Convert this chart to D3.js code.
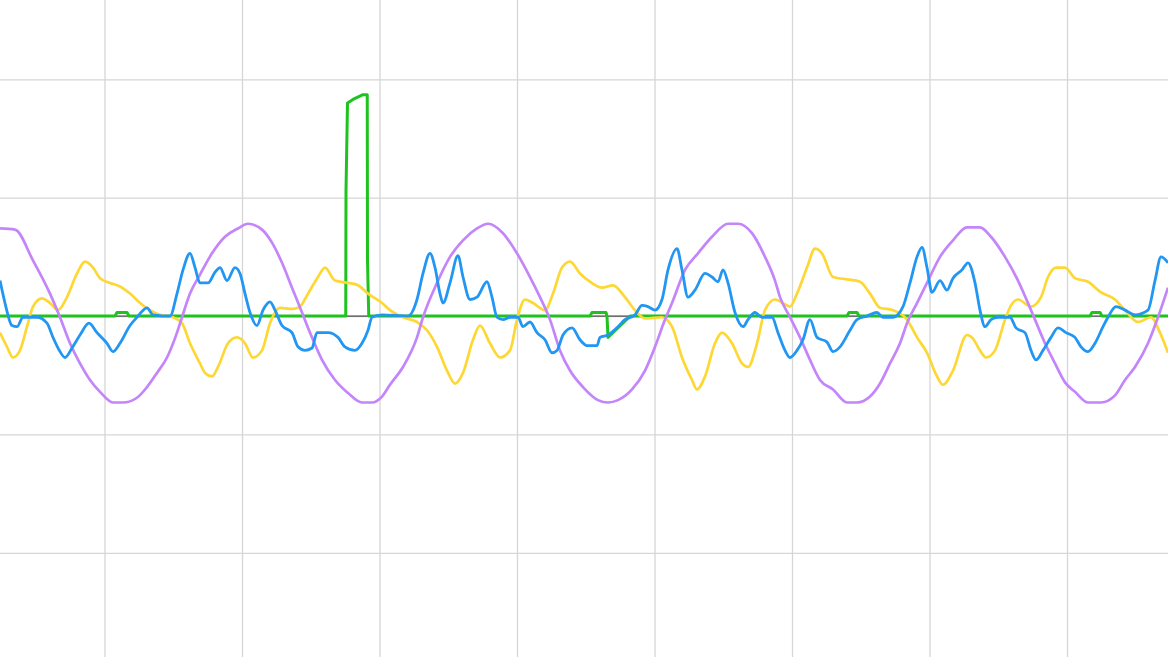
<!DOCTYPE html>
<html>
<head>
<meta charset="utf-8">
<script src="https://cdn.jsdelivr.net/npm/d3@7"></script>
<style>
  html, body { margin: 0; padding: 0; background: #fff; overflow: hidden; }
  #canvas-container { width: 1168px; height: 657px; }
</style>
</head>
<body>
<div id="canvas-container"></div>
<script>
// sample index (x) / reading (y) pairs
const purpleX = [13.2,19.2,26.4,33.2,37.2,41.2,45.2,49.2,53.2,58.4,62.4,68,72,76,80,84,86,89.2,93.2,98,103.2,108.4,112.4,118,122,126,130,134,138,142,147.2,152.4,158,162,166,169.2,174.4,180,182.4,188,193.2,198.4,204,208.4,214.4,220,225.2,229.2,233.2,237.2,241.2,246.4,252.4,256.4,260.4,266,271.2,275.2,279.2,282,287.2,292.4,298,304.4,308.4,314,319.2,323.2,325.2,329.2,333.2,337.2,341.2,346.4,352,356,361.2,365.2,369.2,373.2,376,380,384,389.2,394.4,400,405.2,409.6,415.2,420.4,424.4,427.2,431.2,435.2,439.2,443.2,448.4,453.6,459.2,463.2,467.2,472.4,476.4,480.4];
const purpleY = [74,73,47,19,-1,-23,-40,-54,-64,-73,-73,-69,-60,-48,-35,-14,-1,19,35,53,67,74,78,73,62,45,24,3,-18,-37,-54,-65,-73,-73,-68,-58,-43,-18,-1,28,50,64,74,78,70,53,33,16,-3,-29,-46,-60,-71,-73,-71,-62,-46,-26,-3,11,39,53,67,78,78,70,50,30,16,-1,-18,-37,-54,-62,-73,-73,-68,-57,-40,-23,-6,11,28,50,64,75,75,67,50,30,11,-3,-23,-40,-56,-64,-73,-73,-67,-54,-43,-23,-1,24];

const yellowX = [13.2,16,18.4,21.2,24,26.4,30,33.2,36.4,40,44,47.2,50.4,53.2,57.2,61.2,65.2,69.2,73.2,77.2,82.4,86,89.2,93.2,95.2,98,100.4,104.4,108,111.2,114.4,118,121.2,125.2,130,133.2,136.4,140.4,143.2,147.2,152.4,156.4,160.4,166,169.2,174.4,180,184,188,192,195.2,198.4,202.4,205.2,209.2,213.2,217.2,220,223.2,226.4,231.2,234.4,238,241.2,245.2,249.2,254,258.4,263.2,267.2,271.2,278,282,286,290,292,295.2,299.2,302,306,310,312.4,316,319.2,323.2,327.2,329.2,332,336,339.2,342,346.4,352,357.2,361.2,365.2,370.4,376,380,384,388,390.4,394.4,400,402.4,405.2,407.6,411.2,415.2,417.6,420.4,425.6,429.6,432.4,435.6,439.2,443.2,448.4,453.6,459.2,463.2,468.4,473.6,477.2,480.4];
const yellowY = [-14,-26,-35,-29,-9,8,15,11,5,16,36,46,41,32,28,25,19,11,5,1,-1,-6,-23,-40,-48,-51,-43,-23,-18,-23,-35,-29,-6,7,6,8,19,33,41,30,28,26,19,11,5,-1,-5,-12,-26,-46,-57,-48,-20,-8,-23,-35,-29,-3,14,11,5,19,41,46,36,29,24,26,16,5,-2,-1,-9,-35,-54,-62,-51,-23,-14,-23,-40,-43,-23,5,14,10,8,19,41,57,53,33,31,29,19,7,5,-3,-18,-31,-51,-58,-46,-16,-19,-29,-35,-29,-3,9,14,8,16,33,41,41,32,29,20,14,5,-5,-1,-14,-31];

const blueX = [13.2,15.2,18,20,22.4,28,32,34.4,37.2,39.2,42,45.2,48.8,52,56,58.4,61.2,65.2,68,72,74.4,81.2,84,86.4,89.2,91.2,93.2,96.4,99.2,101.2,104,107.2,109.2,111.2,113.2,116,118.4,121.2,123.2,126,130,132.4,135.2,138,140,144.4,148.4,151.2,155.2,158,160.4,162,166,176.4,180,182.4,185.2,187.2,189.2,190.4,193.2,196.4,198.4,201.2,204,208,210,212,214.4,217.2,220.4,222.4,225.2,228,231.2,234,236,238.4,242,245.2,248,252,253.2,256.4,260.4,263.2,267.2,270,272.4,275.2,278,280.4,284,286,288.4,291.2,295.2,298,300.4,302.4,304.4,307.2,310.4,312.4,315.2,318,322,324.4,327.2,329.2,332,334.4,337.2,340,344,346.4,349.2,353.2,356,360,364,366.4,370.4,374.4,377.2,380,382,384,386,389.2,392,394.4,398,400.4,403.2,405.2,407.2,409.6,412.4,417.2,419.6,423.2,425.6,427.6,430.4,433.6,436.4,439.6,443.2,445.6,448.4,451.2,454.4,456.4,459.6,463.2,467.2,472.4,475.2,477.6,480.4];
const blueY = [30,11,-8,-9,-1,-1,-6,-18,-30,-35,-27,-16,-6,-14,-23,-30,-23,-8,-1,7,1,0,19,39,53,41,28,28,37,41,30,41,36,19,3,-8,5,12,5,-8,-14,-26,-29,-27,-14,-14,-18,-26,-29,-23,-12,-1,1,0,14,36,53,41,19,11,28,51,33,14,16,29,16,-1,-3,-1,-1,-9,-5,-14,-20,-31,-29,-16,-10,-20,-25,-25,-18,-16,-9,-3,1,9,8,5,14,39,57,39,16,22,36,33,29,39,28,3,-9,-3,3,-1,-1,-14,-29,-35,-29,-20,-3,-18,-22,-30,-26,-12,-3,0,3,-1,-1,8,28,50,58,41,20,30,22,32,39,45,28,5,-9,-3,-1,-1,-10,-14,-29,-37,-29,-18,-10,-14,-18,-26,-30,-23,-9,-1,8,5,1,5,30,50,45];

const greenX = [13.2,59.2,60,64,64.8,151.5,151.6,152.2,154.4,158.4,160.1,160.2,160.7,249.2,250,255.6,256,256.4,265.2,352,352.8,356,356.8,449.2,450,453.2,454,480.4];
const greenY = [0,0,3,3,0,0,106,180,183,187,187,47,0,0,3,3,0,-18,0,0,3,3,0,0,3,3,0,0];

const xTicks = [55,110,165,220,275,330,385,440];
const yTicks = [-200,-100,0,100,200];

const width = 1168;
const height = 657;

const x = d3.scaleLinear().domain([13.2, 480.4]).range([0, width]);
const y = d3.scaleLinear().domain([-288, 267]).range([height, 0]);

const svg = d3
  .select("#canvas-container")
  .append("svg")
  .attr("width", width)
  .attr("height", height);

// grid
svg
  .append("g")
  .attr("class", "grid-x")
  .attr("transform", `translate(0, ${height})`)
  .call(d3.axisBottom(x).tickValues(xTicks).tickSize(-height).tickFormat(""))
  .call((g) => g.select(".domain").remove())
  .call((g) => g.selectAll("line").attr("stroke", "#d6d6d6").attr("stroke-width", 1.3));

svg
  .append("g")
  .attr("class", "grid-y")
  .call(d3.axisLeft(y).tickValues(yTicks).tickSize(-width).tickFormat(""))
  .call((g) => g.select(".domain").remove())
  .call((g) => g.selectAll("line").attr("stroke", "#d6d6d6").attr("stroke-width", 1.3));

// zero line
svg
  .append("line")
  .attr("x1", 0)
  .attr("x2", width)
  .attr("y1", y(0))
  .attr("y2", y(0))
  .attr("stroke", "#222")
  .attr("stroke-width", 1);

const series = [
  { xs: greenX, ys: greenY, color: "#1ec31e", curve: d3.curveLinear, w: 3 },
  { xs: yellowX, ys: yellowY, color: "#fdd835", curve: d3.curveMonotoneX, w: 2.7 },
  { xs: purpleX, ys: purpleY, color: "#c485fb", curve: d3.curveMonotoneX, w: 2.7 },
  { xs: blueX, ys: blueY, color: "#2196f3", curve: d3.curveMonotoneX, w: 2.8 },
];

series.forEach((s) => {
  const pts = s.xs.map((d, i) => [d, s.ys[i]]);
  const line = d3
    .line()
    .x((d) => x(d[0]))
    .y((d) => y(d[1]))
    .curve(s.curve);
  svg
    .append("path")
    .datum(pts)
    .attr("fill", "none")
    .attr("stroke", s.color)
    .attr("stroke-width", s.w)
    .attr("stroke-linejoin", "round")
    .attr("d", line);
});
</script>
</body>
</html>
